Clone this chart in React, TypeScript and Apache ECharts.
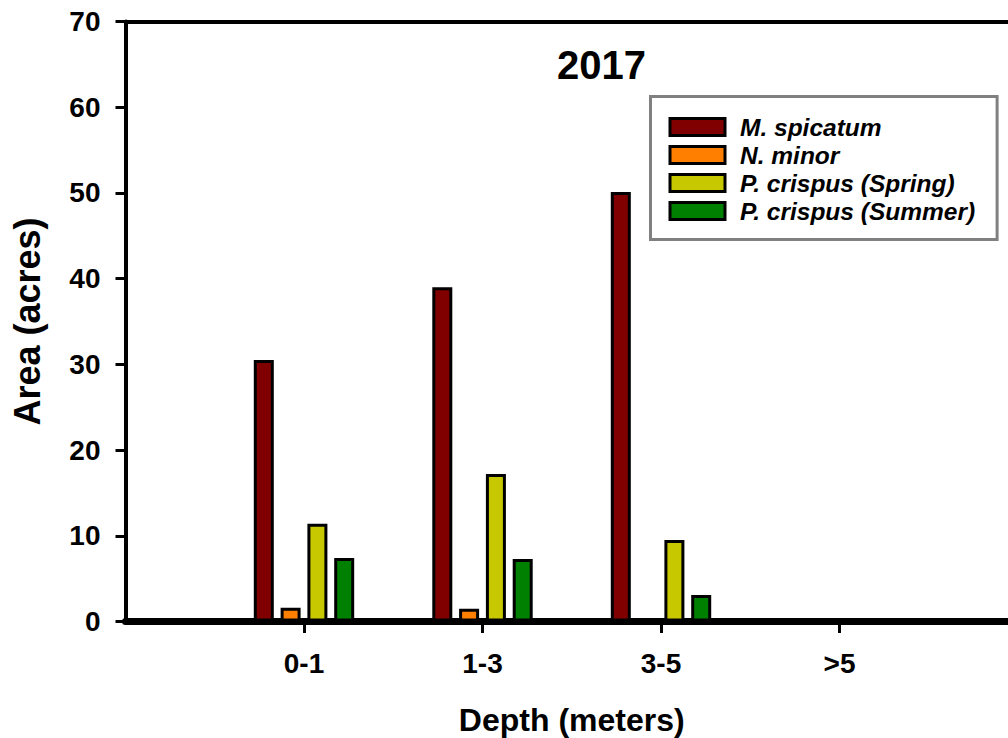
import React, { useEffect, useRef } from "react";
import * as echarts from "echarts";

const categories = ["", "0-1", "1-3", "3-5", ">5", ""];
const seriesNames = ["M. spicatum", "N. minor", "P. crispus (Spring)", "P. crispus (Summer)"];
const mSpicatum = [null, 30.5, 39.0, 50.1, 0, null];
const nMinor = [null, 1.6, 1.5, 0.3, 0, null];
const pCrispusSpring = [null, 11.4, 17.2, 9.5, 0, null];
const pCrispusSummer = [null, 7.4, 7.3, 3.1, 0, null];
const yTicks = { min: 0, max: 70, interval: 10 };
const colors = ["#800000", "#FF8000", "#C8C800", "#008000"];

const FONT = "Arial, 'Liberation Sans', sans-serif";

export default function App() {
  const ref = useRef<HTMLDivElement>(null);
  useEffect(() => {
    if (!ref.current) return;
    const chart = echarts.init(ref.current, null, { renderer: "svg" });
    const values = [mSpicatum, nMinor, pCrispusSpring, pCrispusSummer];
    chart.setOption({
      animation: false,
      backgroundColor: "#ffffff",
      textStyle: { fontFamily: FONT },
      grid: {
        left: 125.5,
        top: 21.5,
        height: 600,
        width: 892.5,
        containLabel: false,
        outerBoundsMode: "none",
      },
      graphic: [
        {
          type: "text",
          x: 601.5,
          y: 65,
          style: {
            text: "2017",
            font: `bold 40px ${FONT}`,
            fill: "#000",
            textAlign: "center",
            textVerticalAlign: "middle",
          },
        },
      ],
      legend: {
        orient: "vertical",
        left: 650.5,
        top: 96.5,
        padding: [18, 22, 16, 18],
        borderColor: "#808080",
        borderWidth: 3,
        backgroundColor: "#fff",
        itemWidth: 55,
        itemHeight: 17,
        itemGap: 3,
        icon: "rect",
        itemStyle: { borderColor: "#000", borderWidth: 3 },
        textStyle: {
          fontFamily: FONT,
          fontSize: 24.5,
          fontWeight: "bold",
          fontStyle: "italic",
          color: "#000",
          padding: [0, 0, 0, 10],
        },
        data: seriesNames,
      },
      xAxis: [
        {
          type: "category",
          data: categories,
          boundaryGap: false,
          position: "bottom",
          name: "Depth (meters)",
          nameLocation: "middle",
          nameGap: 82,
          nameTextStyle: { fontFamily: FONT, fontSize: 32, fontWeight: "bold", color: "#000" },
          axisLine: { show: true, lineStyle: { color: "#000", width: 7 } },
          axisTick: {
            show: true,
            inside: false,
            length: 11.5,
            lineStyle: { color: "#000", width: 3 },
            interval: (index: number) => index >= 1 && index <= 4,
          },
          axisLabel: {
            margin: 28,
            fontFamily: FONT,
            fontSize: 28,
            fontWeight: "bold",
            color: "#000",
            interval: 0,
          },
          splitLine: { show: false },
        },
        {
          type: "category",
          data: categories,
          boundaryGap: false,
          position: "top",
          axisLine: { show: true, lineStyle: { color: "#000", width: 4 } },
          axisTick: { show: false },
          axisLabel: { show: false },
          splitLine: { show: false },
        },
      ],
      yAxis: {
        type: "value",
        min: yTicks.min,
        max: yTicks.max,
        interval: yTicks.interval,
        name: "Area (acres)",
        nameLocation: "middle",
        nameGap: 80,
        nameRotate: 90,
        nameTextStyle: { fontFamily: FONT, fontSize: 36, fontWeight: "bold", color: "#000" },
        axisLine: { show: true, lineStyle: { color: "#000", width: 4 } },
        axisTick: { show: true, inside: false, length: 10, lineStyle: { color: "#000", width: 3 } },
        axisLabel: { margin: 25, fontFamily: FONT, fontSize: 28, fontWeight: "bold", color: "#000" },
        splitLine: { show: false },
      },
      series: seriesNames.map((name, i) => ({
        name,
        type: "bar",
        xAxisIndex: 0,
        data: values[i],
        barWidth: 20,
        barGap: "34%",
        itemStyle: { color: colors[i], borderColor: "#000", borderWidth: 3 },
      })),
    });
    return () => chart.dispose();
  }, []);
  return (
    <div
      ref={ref}
      style={{ position: "fixed", left: 0, top: 0, width: 1008, height: 738 }}
    />
  );
}
